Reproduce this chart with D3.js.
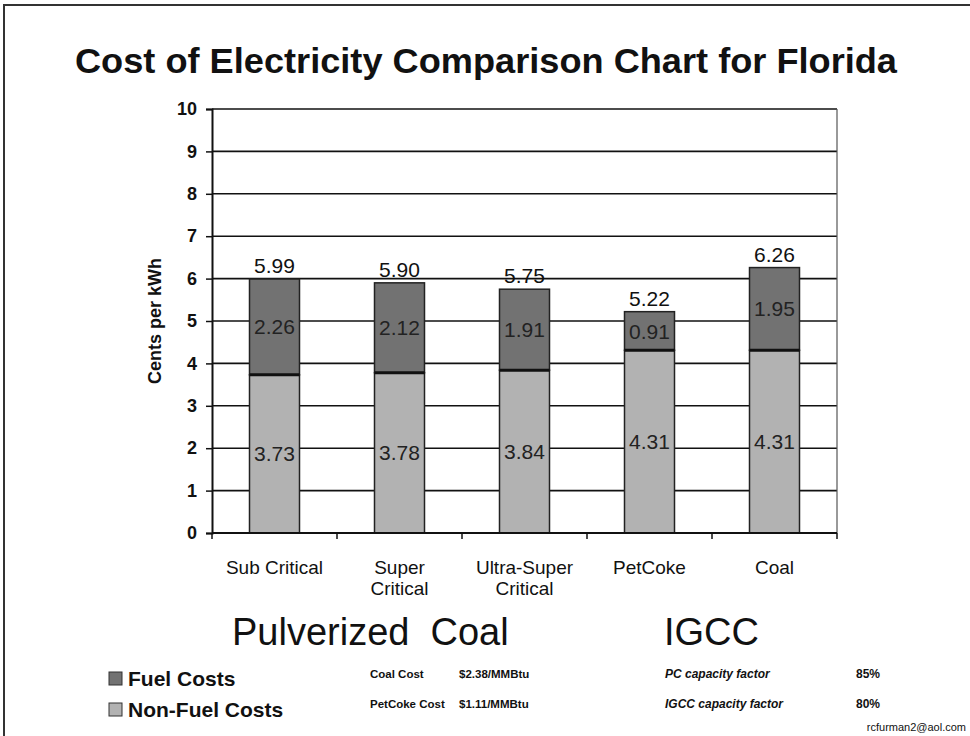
<!DOCTYPE html>
<html>
<head>
<meta charset="utf-8">
<script src="https://cdn.jsdelivr.net/npm/d3@7/dist/d3.min.js"></script>
<style>
  html, body { margin: 0; padding: 0; background: #fff; }
  svg { display: block; font-family: "Liberation Sans", Arial, sans-serif; }
</style>
</head>
<body>
<svg id="chart" width="970" height="736"></svg>
<script>
// Cost of electricity by plant type (cents per kWh)
const categories = ["Sub Critical", "Super Critical", "Ultra-Super Critical", "PetCoke", "Coal"];
const categoryLines = [["Sub Critical"], ["Super", "Critical"], ["Ultra-Super", "Critical"], ["PetCoke"], ["Coal"]];
const nonFuelCosts = [3.73, 3.78, 3.84, 4.31, 4.31];
const fuelCosts = [2.26, 2.12, 1.91, 0.91, 1.95];
const yTicks = [0, 1, 2, 3, 4, 5, 6, 7, 8, 9, 10];
const seriesNames = ["Fuel Costs", "Non-Fuel Costs"];
const groupLabels = ["Pulverized  Coal", "IGCC"];
const fuelNotes = [["Coal Cost", "$2.38/MMBtu"], ["PetCoke Cost", "$1.11/MMBtu"]];
const capacityNotes = [["PC capacity factor", "85%"], ["IGCC capacity factor", "80%"]];

const colors = { fuel: "#727272", nonFuel: "#b2b2b2" };

const svg = d3.select("#chart");

// page frame
svg.append("line").attr("x1", 3).attr("x2", 970).attr("y1", 5).attr("y2", 5)
  .attr("stroke", "#333").attr("stroke-width", 2);
svg.append("line").attr("x1", 4).attr("x2", 4).attr("y1", 5).attr("y2", 736)
  .attr("stroke", "#333").attr("stroke-width", 2);

// title
svg.append("text").attr("x", 486).attr("y", 73).attr("text-anchor", "middle")
  .attr("font-size", 35).attr("font-weight", "bold").attr("fill", "#111")
  .attr("textLength", 822).attr("lengthAdjust", "spacingAndGlyphs")
  .text("Cost of Electricity Comparison Chart for Florida");

const plot = { left: 212, right: 837, top: 109, bottom: 533 };

const x = d3.scaleBand().domain(categories)
  .range([plot.left, plot.right]).paddingInner(0.6).paddingOuter(0.3);
const y = d3.scaleLinear().domain([0, 10]).range([plot.bottom, plot.top]);

// horizontal gridlines
svg.append("g").selectAll("line").data(yTicks.filter(d => d > 0)).join("line")
  .attr("x1", plot.left).attr("x2", plot.right)
  .attr("y1", d => y(d)).attr("y2", d => y(d))
  .attr("stroke", "#111").attr("stroke-width", 1.6);

// right edge of the plot area
svg.append("line").attr("x1", plot.right).attr("x2", plot.right)
  .attr("y1", plot.top).attr("y2", plot.bottom)
  .attr("stroke", "#555").attr("stroke-width", 1.2);

// stacked bars
const stack = categories.map((c, i) => ({
  cat: c, nonFuel: nonFuelCosts[i], fuel: fuelCosts[i], total: +(nonFuelCosts[i] + fuelCosts[i]).toFixed(2)
}));

const bars = svg.append("g");
bars.selectAll("rect.nf").data(stack).join("rect").attr("class", "nf")
  .attr("x", d => x(d.cat)).attr("width", x.bandwidth())
  .attr("y", d => y(d.nonFuel)).attr("height", d => y(0) - y(d.nonFuel))
  .attr("fill", colors.nonFuel).attr("stroke", "#222").attr("stroke-width", 1.5);
bars.selectAll("rect.f").data(stack).join("rect").attr("class", "f")
  .attr("x", d => x(d.cat)).attr("width", x.bandwidth())
  .attr("y", d => y(d.total)).attr("height", d => y(d.nonFuel) - y(d.total))
  .attr("fill", colors.fuel).attr("stroke", "#222").attr("stroke-width", 1.5);
// divider between the two segments
bars.selectAll("line.div").data(stack).join("line").attr("class", "div")
  .attr("x1", d => x(d.cat)).attr("x2", d => x(d.cat) + x.bandwidth())
  .attr("y1", d => y(d.nonFuel)).attr("y2", d => y(d.nonFuel))
  .attr("stroke", "#111").attr("stroke-width", 3);

// segment labels
const cx = d => x(d.cat) + x.bandwidth() / 2;
bars.selectAll("text.nfl").data(stack).join("text").attr("class", "nfl")
  .attr("x", cx).attr("y", d => y(d.nonFuel / 2)).attr("dy", "0.36em")
  .attr("text-anchor", "middle").attr("font-size", 21).attr("fill", "#222")
  .text(d => d.nonFuel.toFixed(2));
bars.selectAll("text.fl").data(stack).join("text").attr("class", "fl")
  .attr("x", cx).attr("y", d => y(d.nonFuel + d.fuel / 2)).attr("dy", "0.36em")
  .attr("text-anchor", "middle").attr("font-size", 21).attr("fill", "#222")
  .text(d => d.fuel.toFixed(2));
bars.selectAll("text.tot").data(stack).join("text").attr("class", "tot")
  .attr("x", cx).attr("y", d => y(d.total) - 6)
  .attr("text-anchor", "middle").attr("font-size", 21).attr("fill", "#111")
  .text(d => d.total.toFixed(2));

// y axis
const yAxis = svg.append("g").attr("transform", `translate(${plot.left},0)`)
  .call(d3.axisLeft(y).tickValues(yTicks).tickSize(6).tickPadding(9).tickFormat(d3.format("d")));
yAxis.select(".domain").attr("stroke", "#111").attr("stroke-width", 2);
yAxis.selectAll(".tick line").attr("stroke", "#111").attr("stroke-width", 1.5);
yAxis.selectAll(".tick text").attr("font-size", 18).attr("font-weight", "bold")
  .attr("font-family", "Liberation Sans, Arial, sans-serif").attr("fill", "#111");

svg.append("text").attr("transform", `translate(161,${(plot.top + plot.bottom) / 2}) rotate(-90)`)
  .attr("text-anchor", "middle").attr("font-size", 18).attr("font-weight", "bold").attr("fill", "#111")
  .text("Cents per kWh");

// x axis with ticks on category boundaries
svg.append("line").attr("x1", plot.left).attr("x2", plot.right)
  .attr("y1", plot.bottom).attr("y2", plot.bottom).attr("stroke", "#111").attr("stroke-width", 2);
const step = x.step();
svg.append("g").selectAll("line").data(d3.range(categories.length + 1)).join("line")
  .attr("x1", i => plot.left + i * step).attr("x2", i => plot.left + i * step)
  .attr("y1", plot.bottom).attr("y2", plot.bottom + 6)
  .attr("stroke", "#111").attr("stroke-width", 1.5);

const xl = svg.append("g");
categories.forEach((c, i) => {
  const t = xl.append("text").attr("x", x(c) + x.bandwidth() / 2).attr("y", 574)
    .attr("text-anchor", "middle").attr("font-size", 19).attr("fill", "#111");
  categoryLines[i].forEach((line, j) => {
    t.append("tspan").attr("x", x(c) + x.bandwidth() / 2).attr("dy", j === 0 ? 0 : 21).text(line);
  });
});

// group captions
svg.append("text").attr("x", 232).attr("y", 645).attr("font-size", 38).attr("fill", "#111")
  .style("white-space", "pre").text(groupLabels[0]);
svg.append("text").attr("x", 664).attr("y", 645).attr("font-size", 38).attr("fill", "#111")
  .text(groupLabels[1]);

// legend
const legendColors = [colors.fuel, colors.nonFuel];
seriesNames.forEach((name, i) => {
  const ly = 686 + i * 31;
  svg.append("rect").attr("x", 109).attr("y", ly - 14).attr("width", 13).attr("height", 13)
    .attr("fill", legendColors[i]).attr("stroke", "#333").attr("stroke-width", 1);
  svg.append("text").attr("x", 128).attr("y", ly).attr("font-size", 21).attr("font-weight", "bold")
    .attr("fill", "#111").text(name);
});

// fuel price notes
fuelNotes.forEach((n, i) => {
  const ny = 678 + i * 30;
  svg.append("text").attr("x", 370).attr("y", ny).attr("font-size", 11.5).attr("font-weight", "bold")
    .attr("fill", "#111").text(n[0]);
  svg.append("text").attr("x", 459).attr("y", ny).attr("font-size", 11.5).attr("font-weight", "bold")
    .attr("fill", "#111").text(n[1]);
});

// capacity factor notes
capacityNotes.forEach((n, i) => {
  const ny = 678 + i * 30;
  svg.append("text").attr("x", 665).attr("y", ny).attr("font-size", 12).attr("font-weight", "bold")
    .attr("font-style", "italic").attr("fill", "#111").text(n[0]);
  svg.append("text").attr("x", 856).attr("y", ny).attr("font-size", 12).attr("font-weight", "bold")
    .attr("fill", "#111").text(n[1]);
});

svg.append("text").attr("x", 966).attr("y", 731).attr("text-anchor", "end")
  .attr("font-size", 11).attr("fill", "#111").text("rcfurman2@aol.com");
</script>
</body>
</html>
